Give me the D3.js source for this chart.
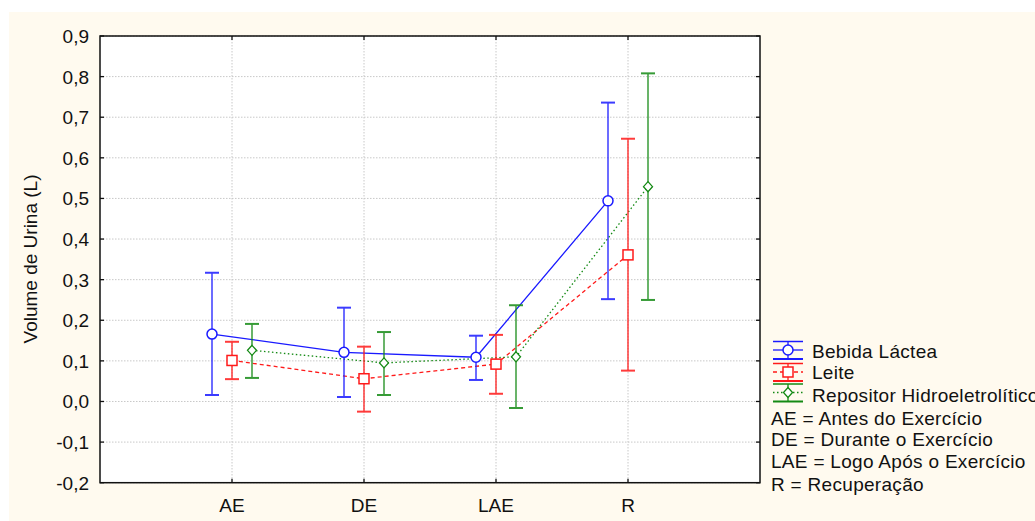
<!DOCTYPE html>
<html>
<head>
<meta charset="utf-8">
<script src="https://cdn.jsdelivr.net/npm/d3@7"></script>
<style>
  body { margin: 0; background: #fff; }
  text { font-family: "Liberation Sans", Arial, sans-serif; }
</style>
</head>
<body>
<svg id="chart" width="1035" height="521"></svg>
<script>
// categories and tick labels
const categories = ["AE", "DE", "LAE", "R"];
const yTicks = [-0.2, -0.1, 0, 0.1, 0.2, 0.3, 0.4, 0.5, 0.6, 0.7, 0.8, 0.9];

// series: mean, lower, upper
const bebidaMean = [0.166, 0.121, 0.109, 0.494];
const bebidaLow = [0.016, 0.011, 0.053, 0.252];
const bebidaHigh = [0.317, 0.231, 0.162, 0.736];

const leiteMean = [0.101, 0.056, 0.092, 0.361];
const leiteLow = [0.055, -0.025, 0.019, 0.076];
const leiteHigh = [0.147, 0.135, 0.164, 0.647];

const repoMean = [0.126, 0.095, 0.110, 0.529];
const repoLow = [0.058, 0.016, -0.016, 0.250];
const repoHigh = [0.191, 0.171, 0.237, 0.808];

const notes = ["AE = Antes do Exercício", "DE = Durante o Exercício",
  "LAE = Logo Após o Exercício", "R = Recuperação"];

const series = [
  { name: "Bebida Láctea", mean: bebidaMean, low: bebidaLow, high: bebidaHigh,
    color: "#1a1aff", dash: null, shape: "circle", off: -20 },
  { name: "Leite", mean: leiteMean, low: leiteLow, high: leiteHigh,
    color: "#ff1a1a", dash: "4,3", shape: "square", off: 0 },
  { name: "Repositor Hidroeletrolítico", mean: repoMean, low: repoLow, high: repoHigh,
    color: "#148a14", dash: "1.5,2.5", shape: "diamond", off: 20 }
];

const svg = d3.select("#chart");
svg.append("rect").attr("x", 9).attr("y", 12).attr("width", 1026).attr("height", 509)
  .attr("fill", "#fffaef");

const L = 100, R = 760, T = 36, B = 482.7;
const x = d3.scaleLinear().domain([0, 5]).range([L, R]);
const y = d3.scaleLinear().domain([-0.2, 0.9]).range([B, T]);

svg.append("rect").attr("x", L).attr("y", T).attr("width", R - L).attr("height", B - T)
  .attr("fill", "#fff");

// grid
const grid = svg.append("g").attr("stroke", "#c8c8c8").attr("stroke-dasharray", "1.5,1.5").attr("stroke-width", 1);
yTicks.forEach(t => grid.append("line").attr("x1", L).attr("x2", R).attr("y1", y(t)).attr("y2", y(t)));
categories.forEach((c, i) => grid.append("line").attr("x1", x(i + 1)).attr("x2", x(i + 1)).attr("y1", T).attr("y2", B));

// frame and inward ticks
const fmt = v => d3.format(".1f")(v).replace(".", ",").replace("−", "-");
svg.append("rect").attr("x", L).attr("y", T).attr("width", R - L).attr("height", B - T)
  .attr("fill", "none").attr("stroke", "#111").attr("stroke-width", 1.5);
yTicks.forEach(t => {
  svg.append("line").attr("x1", L).attr("x2", L + 4).attr("y1", y(t)).attr("y2", y(t)).attr("stroke", "#111").attr("stroke-width", 1.3);
  svg.append("line").attr("x1", R - 4).attr("x2", R).attr("y1", y(t)).attr("y2", y(t)).attr("stroke", "#111").attr("stroke-width", 1.3);
  svg.append("text").attr("x", 89).attr("y", y(t) + 7).attr("text-anchor", "end")
    .attr("font-size", 19).attr("fill", "#111").text(fmt(t));
});
categories.forEach((c, i) => {
  svg.append("line").attr("x1", x(i + 1)).attr("x2", x(i + 1)).attr("y1", B).attr("y2", B - 4).attr("stroke", "#111").attr("stroke-width", 1.3);
  svg.append("line").attr("x1", x(i + 1)).attr("x2", x(i + 1)).attr("y1", T).attr("y2", T + 4).attr("stroke", "#111").attr("stroke-width", 1.3);
  svg.append("text").attr("x", x(i + 1)).attr("y", 511.5).attr("text-anchor", "middle")
    .attr("font-size", 19).attr("fill", "#111").text(c);
});

svg.append("text").attr("transform", `translate(37,259) rotate(-90)`)
  .attr("text-anchor", "middle").attr("font-size", 19).attr("fill", "#111").text("Volume de Urina (L)");

function marker(g, shape, cx, cy, color) {
  if (shape === "circle") {
    g.append("circle").attr("cx", cx).attr("cy", cy).attr("r", 5)
      .attr("fill", "#fff").attr("stroke", color).attr("stroke-width", 1.5);
  } else if (shape === "square") {
    g.append("rect").attr("x", cx - 5).attr("y", cy - 5).attr("width", 10).attr("height", 10)
      .attr("fill", "#fff").attr("stroke", color).attr("stroke-width", 1.5);
  } else {
    g.append("path").attr("d", `M${cx},${cy - 5}L${cx + 4.5},${cy}L${cx},${cy + 5}L${cx - 4.5},${cy}Z`)
      .attr("fill", "#fff").attr("stroke", color).attr("stroke-width", 1.3);
  }
}

const plot = svg.append("g");
// connecting lines
series.forEach(s => {
  const line = d3.line().x((d, i) => x(i + 1) + s.off).y(d => y(d));
  plot.append("path").attr("d", line(s.mean)).attr("fill", "none")
    .attr("stroke", s.color).attr("stroke-width", 1.3)
    .attr("stroke-dasharray", s.dash);
});
// error bars
series.forEach(s => {
  s.mean.forEach((m, i) => {
    const cx = x(i + 1) + s.off;
    const g = plot.append("g").attr("stroke", s.color).attr("stroke-width", 1.5).attr("opacity", 0.85);
    g.append("line").attr("x1", cx).attr("x2", cx).attr("y1", y(s.low[i])).attr("y2", y(s.high[i]));
    g.append("line").attr("x1", cx - 7).attr("x2", cx + 7).attr("y1", y(s.low[i])).attr("y2", y(s.low[i])).attr("stroke-width", 2);
    g.append("line").attr("x1", cx - 7).attr("x2", cx + 7).attr("y1", y(s.high[i])).attr("y2", y(s.high[i])).attr("stroke-width", 2);
  });
});
// markers
series.forEach(s => {
  s.mean.forEach((m, i) => marker(plot, s.shape, x(i + 1) + s.off, y(m), s.color));
});

// legend
const leg = svg.append("g").attr("letter-spacing", 0.3);
const legY = [350, 372, 392.5];
const legBase = [357.5, 379.3, 401.7];
series.forEach((s, i) => {
  const cy = legY[i], cx = 788;
  leg.append("line").attr("x1", 773).attr("x2", 803).attr("y1", cy - 8.5).attr("y2", cy - 8.5).attr("stroke", s.color).attr("stroke-width", 1.5);
  leg.append("line").attr("x1", 773).attr("x2", 803).attr("y1", cy + 9).attr("y2", cy + 9).attr("stroke", s.color).attr("stroke-width", 2);
  leg.append("line").attr("x1", cx).attr("x2", cx).attr("y1", cy - 8.5).attr("y2", cy + 9).attr("stroke", s.color).attr("stroke-width", 1.3);
  leg.append("line").attr("x1", 773).attr("x2", 803).attr("y1", cy).attr("y2", cy).attr("stroke", s.color)
    .attr("stroke-width", 1.3).attr("stroke-dasharray", s.dash);
  marker(leg, s.shape, cx, cy, s.color);
  leg.append("text").attr("x", 812).attr("y", legBase[i]).attr("font-size", 19).attr("fill", "#111").text(s.name);
});
const noteY = [425, 446.3, 468.3, 491];
notes.forEach((n, i) => {
  leg.append("text").attr("x", 771).attr("y", noteY[i]).attr("font-size", 19).attr("fill", "#111").text(n);
});
</script>
</body>
</html>
